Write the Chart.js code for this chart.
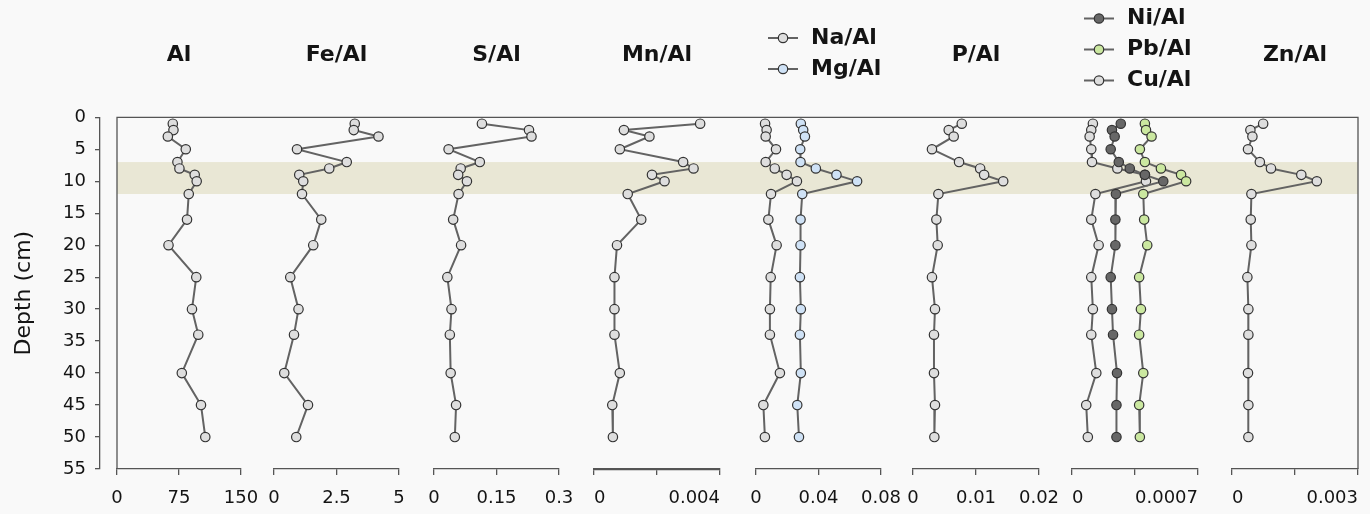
<!DOCTYPE html>
<html>
<head>
<meta charset="utf-8">
<script src="https://cdn.jsdelivr.net/npm/chart.js@4.4.1/dist/chart.umd.min.js"></script>
<style>
  html, body { margin: 0; padding: 0; background: #f9f9f9; }
  #wrap { position: relative; width: 1370px; height: 514px; overflow: hidden; }
  #wrap canvas { position: absolute; top: 0; }
</style>
</head>
<body>
<div id="wrap"></div>
<script>
// ---- data: sampling depths (cm) and element ratios per depth ----
const depths = [1, 2, 3, 5, 7, 8, 9, 10, 12, 16, 20, 25, 30, 34, 40, 45, 50];

const al   = [67.5, 68.3, 61.5, 83.2, 73.1, 75.5, 94.0, 96.4, 86.8, 84.7, 62.3, 95.9, 90.7, 98.3, 78.4, 101.6, 106.8];
const feAl = [3.23, 3.19, 4.18, 0.92, 2.91, 2.21, 1.01, 1.17, 1.12, 1.89, 1.57, 0.65, 0.98, 0.80, 0.41, 1.36, 0.89];
const sAl  = [0.115, 0.228, 0.234, 0.035, 0.110, 0.064, 0.058, 0.079, 0.059, 0.046, 0.065, 0.032, 0.042, 0.038, 0.040, 0.053, 0.050];
const mnAl = [0.00337, 0.00095, 0.00176, 0.00082, 0.00283, 0.00316, 0.00184, 0.00224, 0.00107, 0.00150, 0.00073, 0.00065, 0.00065, 0.00065, 0.00082, 0.00058, 0.00060];
const naAl = [0.0058, 0.0068, 0.0062, 0.0128, 0.0062, 0.0120, 0.0196, 0.0262, 0.0096, 0.0079, 0.0132, 0.0094, 0.0089, 0.0089, 0.0153, 0.0047, 0.0057];
const mgAl = [0.0287, 0.0302, 0.0313, 0.0283, 0.0285, 0.0383, 0.0515, 0.0647, 0.0296, 0.0285, 0.0285, 0.0281, 0.0287, 0.0281, 0.0287, 0.0264, 0.0275];
const pAl  = [0.00774, 0.00567, 0.00646, 0.00301, 0.00731, 0.01066, 0.01129, 0.01432, 0.00403, 0.00371, 0.00392, 0.00301, 0.00349, 0.00333, 0.00333, 0.00349, 0.00339];
const niAl = [0.000271, 0.000222, 0.000237, 0.000215, 0.000260, 0.000321, 0.000405, 0.000507, 0.000244, 0.000241, 0.000241, 0.000215, 0.000222, 0.000228, 0.000250, 0.000247, 0.000247];
const pbAl = [0.000405, 0.000411, 0.000442, 0.000377, 0.000405, 0.000494, 0.000606, 0.000634, 0.000396, 0.000401, 0.000418, 0.000373, 0.000383, 0.000373, 0.000396, 0.000373, 0.000377];
const cuAl = [0.000116, 0.000107, 0.000098, 0.000107, 0.000111, 0.000252, 0.000405, 0.000411, 0.000130, 0.000107, 0.000148, 0.000107, 0.000116, 0.000107, 0.000135, 0.000079, 0.000088];
const znAl = [0.000742, 0.000438, 0.000486, 0.000381, 0.000663, 0.000928, 0.00165, 0.00202, 0.000462, 0.000446, 0.000462, 0.000366, 0.000390, 0.000390, 0.000381, 0.000390, 0.000390];

// highlighted depth interval (cm)
const bandDepths = [7, 12];

// ---- tick values and labels ----
const depthTicks  = [0, 5, 10, 15, 20, 25, 30, 35, 40, 45, 50, 55];
const alTicks     = [0, 75, 150];          const alLabels    = ['0', '75', '150'];
const feTicks     = [0, 2.5, 5];           const feLabels    = ['0', '2.5', '5'];
const sTicks      = [0, 0.15, 0.3];        const sLabels     = ['0', '0.15', '0.3'];
const mnTicks     = [0, 0.002, 0.004];     const mnLabels    = ['0', '', '0.004'];
const naMgTicks   = [0, 0.04, 0.08];       const naMgLabels  = ['0', '0.04', '0.08'];
const pTicks      = [0, 0.01, 0.02];       const pLabels     = ['0', '0.01', '0.02'];
const traceTicks  = [0, 0.00035, 0.0007];  const traceLabels = ['0', '', '0.0007'];
const znTicks     = [0, 0.0015, 0.003];    const znLabels    = ['0', '', '0.003'];

// ---- layout and styling ----
const W = 1370, H = 514;
const PLOT_TOP = 117.3, PLOT_BOTTOM = 469;
const X_AXIS_H = H - PLOT_BOTTOM;
const FRAME_LEFT = 117, FRAME_RIGHT = 1358;
const AXIS_COLOR = '#555555';
const TEXT_COLOR = '#141414';
const LINE_COLOR = '#636363';
const FILL_GRAY = '#dedede', FILL_BLUE = '#cfe2f6', FILL_DARK = '#676767', FILL_GREEN = '#cbe8a0';
const FONT = 'DejaVu Sans';
Chart.defaults.font.family = FONT;

const panels = [
  { box: [117, 241],  ticks: alTicks,    labels: alLabels,    headY: 55,   series: [{ label: 'Al',    values: al,   fill: FILL_GRAY }] },
  { box: [274, 399],  ticks: feTicks,    labels: feLabels,    headY: 55,   series: [{ label: 'Fe/Al', values: feAl, fill: FILL_GRAY }] },
  { box: [434, 559],  ticks: sTicks,     labels: sLabels,     headY: 55,   series: [{ label: 'S/Al',  values: sAl,  fill: FILL_GRAY }] },
  { box: [594, 720],  ticks: mnTicks,    labels: mnLabels,    headY: 55,   axisWidth: 2.2, tickAlign: 'inner',
    series: [{ label: 'Mn/Al', values: mnAl, fill: FILL_GRAY }] },
  { box: [756, 881],  ticks: naMgTicks,  labels: naMgLabels,  headY: 53.5,
    series: [{ label: 'Na/Al', values: naAl, fill: FILL_GRAY }, { label: 'Mg/Al', values: mgAl, fill: FILL_BLUE }] },
  { box: [913, 1039], ticks: pTicks,     labels: pLabels,     headY: 55,   series: [{ label: 'P/Al',  values: pAl,  fill: FILL_GRAY }] },
  { box: [1072, 1198], ticks: traceTicks, labels: traceLabels, headY: 49.5, tickAlign: 'inner',
    series: [{ label: 'Ni/Al', values: niAl, fill: FILL_DARK }, { label: 'Pb/Al', values: pbAl, fill: FILL_GREEN }, { label: 'Cu/Al', values: cuAl, fill: FILL_GRAY }] },
  { box: [1232, 1358], ticks: znTicks,   labels: znLabels,    headY: 55,   tickAlign: 'inner',
    series: [{ label: 'Zn/Al', values: znAl, fill: FILL_GRAY }] }
];

const wrap = document.getElementById('wrap');
function addCanvas(left, width) {
  const c = document.createElement('canvas');
  c.width = width; c.height = H;
  c.style.left = left + 'px';
  c.style.width = width + 'px'; c.style.height = H + 'px';
  wrap.appendChild(c);
  return c;
}

const depthScale = { type: 'linear', min: 0, max: 55, reverse: true, display: false };

// shaded interval plus the open frame around all profiles
const framePlugin = {
  id: 'frame',
  beforeDraw(chart) {
    const { ctx, chartArea: a, scales: { y } } = chart;
    const y0 = y.getPixelForValue(bandDepths[0]);
    const y1 = y.getPixelForValue(bandDepths[1]);
    ctx.save();
    ctx.fillStyle = '#e9e7d5';
    ctx.fillRect(a.left, y0, a.right - a.left, y1 - y0);
    ctx.strokeStyle = AXIS_COLOR;
    ctx.lineWidth = 1.3;
    ctx.beginPath();
    ctx.moveTo(a.left, a.bottom);
    ctx.lineTo(a.left, a.top);
    ctx.lineTo(a.right, a.top);
    ctx.lineTo(a.right, a.bottom);
    ctx.stroke();
    ctx.restore();
  }
};

new Chart(addCanvas(0, W), {
  type: 'scatter',
  data: { datasets: [] },
  plugins: [framePlugin],
  options: {
    responsive: false, animation: false, events: [],
    layout: { padding: { left: FRAME_LEFT, right: W - FRAME_RIGHT, top: PLOT_TOP, bottom: X_AXIS_H } },
    plugins: { legend: { display: false }, tooltip: { enabled: false } },
    scales: { x: { type: 'linear', min: 0, max: 1, display: false }, y: depthScale }
  }
});

// shared depth axis
new Chart(addCanvas(0, FRAME_LEFT), {
  type: 'scatter',
  data: { datasets: [] },
  options: {
    responsive: false, animation: false, events: [],
    layout: { padding: { left: 0, right: 0, top: PLOT_TOP, bottom: X_AXIS_H } },
    plugins: { legend: { display: false }, tooltip: { enabled: false } },
    scales: {
      x: { type: 'linear', min: 0, max: 1, display: false },
      y: {
        type: 'linear', min: 0, max: 55, reverse: true, position: 'left',
        afterBuildTicks: sc => { sc.ticks = depthTicks.map(v => ({ value: v })); },
        afterFit: sc => { sc.width = 100; },
        grid: { drawOnChartArea: false, tickLength: 5, color: AXIS_COLOR, lineWidth: 1.3 },
        border: { display: true, color: AXIS_COLOR, width: 1.3 },
        ticks: { autoSkip: false, padding: 9, color: TEXT_COLOR, font: { size: 18 } },
        title: { display: true, text: 'Depth (cm)', color: TEXT_COLOR, font: { size: 22 }, padding: { top: 11, bottom: 0 } }
      }
    }
  }
});

// panel headings: a title for single profiles, a legend for grouped ones
const headerPlugin = {
  id: 'header',
  afterDraw(chart, args, opts) {
    const { ctx, chartArea: a } = chart;
    const ds = chart.data.datasets;
    ctx.save();
    ctx.font = 'bold 22px "' + FONT + '"';
    ctx.textBaseline = 'middle';
    if (ds.length === 1) {
      ctx.fillStyle = TEXT_COLOR;
      ctx.textAlign = 'center';
      ctx.fillText(ds[0].label, (a.left + a.right) / 2, opts.y);
    } else {
      ds.forEach((d, i) => {
        const yy = opts.y + (i - (ds.length - 1) / 2) * 31;
        const x0 = a.left + 12;
        ctx.strokeStyle = d.borderColor; ctx.lineWidth = d.borderWidth;
        ctx.beginPath(); ctx.moveTo(x0, yy); ctx.lineTo(x0 + 30, yy); ctx.stroke();
        ctx.beginPath(); ctx.arc(x0 + 15, yy, d.pointRadius, 0, Math.PI * 2);
        ctx.fillStyle = d.pointBackgroundColor; ctx.fill();
        ctx.strokeStyle = d.pointBorderColor; ctx.lineWidth = d.pointBorderWidth; ctx.stroke();
        ctx.fillStyle = TEXT_COLOR; ctx.textAlign = 'left';
        ctx.fillText(d.label, x0 + 43, yy);
      });
    }
    ctx.restore();
  }
};

const PAD = 50;
panels.forEach(p => {
  const [L, R] = p.box;
  const canvas = addCanvas(L - PAD, R - L + 2 * PAD);
  new Chart(canvas, {
    type: 'scatter',
    data: {
      datasets: p.series.map(s => ({
        label: s.label,
        data: depths.map((d, i) => ({ x: s.values[i], y: d })),
        showLine: true,
        borderColor: LINE_COLOR,
        borderWidth: 2,
        pointRadius: 4.7,
        pointHoverRadius: 4.7,
        pointBackgroundColor: s.fill,
        pointBorderColor: '#333333',
        pointBorderWidth: 1.2,
        tension: 0,
        clip: false
      }))
    },
    plugins: [headerPlugin],
    options: {
      responsive: false, animation: false, events: [],
      layout: { padding: { left: PAD, right: PAD, top: PLOT_TOP, bottom: 0 } },
      plugins: { legend: { display: false }, tooltip: { enabled: false }, header: { y: p.headY } },
      scales: {
        x: {
          type: 'linear', position: 'bottom', min: p.ticks[0], max: p.ticks[p.ticks.length - 1],
          afterBuildTicks: sc => { sc.ticks = p.ticks.map(v => ({ value: v })); },
          afterFit: sc => { sc.height = X_AXIS_H; sc.paddingLeft = 0; sc.paddingRight = 0; },
          grid: { drawOnChartArea: false, tickLength: 6, color: AXIS_COLOR, lineWidth: 1.3 },
          border: { display: true, color: AXIS_COLOR, width: p.axisWidth || 1.3 },
          ticks: { autoSkip: false, maxRotation: 0, minRotation: 0, padding: 13, color: TEXT_COLOR,
                   align: p.tickAlign || 'center',
                   font: { size: 18 }, callback: (v, i) => p.labels[i] }
        },
        y: depthScale
      }
    }
  });
});
</script>
</body>
</html>
